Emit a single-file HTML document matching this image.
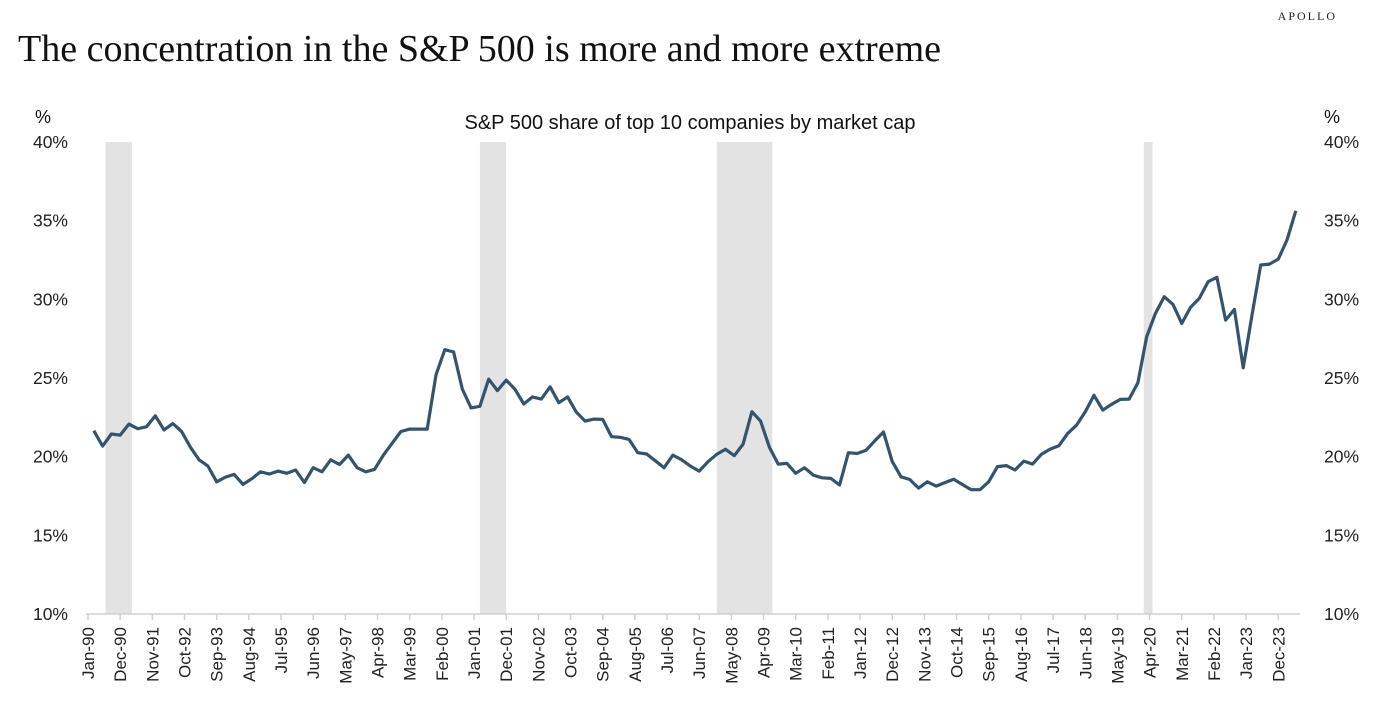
<!DOCTYPE html>
<html><head><meta charset="utf-8"><style>
body{margin:0;background:#fff;width:1384px;height:718px;overflow:hidden}
svg text{font-family:"Liberation Sans",sans-serif}
</style></head><body>
<svg id="c" width="1384" height="718">
<text x="1337" y="20" font-size="12" letter-spacing="2" text-anchor="end" fill="#222" style="font-family:'Liberation Serif',serif">APOLLO</text>
<text x="18" y="61" font-size="38" fill="#111" style="font-family:'Liberation Serif',serif">The concentration in the S&amp;P 500 is more and more extreme</text>
<text x="690" y="129" font-size="20" text-anchor="middle" fill="#111">S&amp;P 500 share of top 10 companies by market cap</text>
<text x="35" y="123" font-size="18" fill="#111">%</text>
<text x="1324" y="123" font-size="18" fill="#111">%</text>
<g id="rec"></g><g id="axes"></g><g id="line"></g>
</svg>
<script>
const values=[21.65,20.67,21.44,21.37,22.07,21.78,21.9,22.6,21.7,22.1,21.6,20.6,19.8,19.4,18.4,18.7,18.87,18.24,18.6,19.04,18.9,19.08,18.94,19.15,18.36,19.3,19.04,19.8,19.5,20.1,19.3,19.04,19.2,20.1,20.85,21.6,21.75,21.75,21.75,25.2,26.8,26.65,24.3,23.1,23.2,24.93,24.2,
24.87,24.28,23.35,23.8,23.66,24.44,23.43,23.8,22.82,22.26,22.39,22.37,21.27,21.23,21.1,20.25,20.17,19.74,19.3,20.1,19.8,19.4,19.08,19.68,20.15,20.47,20.06,20.8,22.86,22.26,20.6,19.53,19.57,18.94,19.3,18.83,18.66,18.62,18.2,20.25,20.2,20.4,21.0,21.57,19.7,
18.72,18.55,18.0,18.4,18.13,18.35,18.57,18.23,17.9,17.9,18.4,19.37,19.43,19.15,19.72,19.53,20.15,20.48,20.7,21.48,22.0,22.85,23.9,22.96,23.33,23.64,23.66,24.7,27.63,29.1,30.17,29.68,28.47,29.49,30.06,31.12,31.4,28.68,29.36,25.65,29.0,32.18,32.24,32.56,33.77,35.63];
const recessionStarts=[6,134,215,361];
const recessionEnds=[15,143,234,364];
const yTicks=[10,15,20,25,30,35,40];
const monthNames=["Jan","Feb","Mar","Apr","May","Jun","Jul","Aug","Sep","Oct","Nov","Dec"];
const NS="http://www.w3.org/2000/svg";
function xM(m){return 88+m*2.9245;}
function yV(v){return 614-(v-10)*15.733;}
function mk(t,a,p){const e=document.createElementNS(NS,t);for(const k in a)e.setAttribute(k,a[k]);p.appendChild(e);return e;}
const rec=document.getElementById('rec'),ax=document.getElementById('axes'),ln=document.getElementById('line');
recessionStarts.forEach((s,i)=>{
 const r=mk('rect',{x:xM(s),y:142,width:xM(recessionEnds[i])-xM(s),height:472,fill:'#e3e3e3'},rec);
 
 
});
yTicks.forEach(v=>{
 const l=mk('text',{x:68,y:yV(v)+6,'font-size':17.5,'text-anchor':'end',fill:'#222'},ax);l.textContent=v+'%';
 
 
 const r=mk('text',{x:1324,y:yV(v)+6,'font-size':17.5,fill:'#222'},ax);r.textContent=v+'%';
 
 
});
const axl=mk('line',{x1:86,x2:1300,y1:614,y2:614,stroke:'#d0d0d0','stroke-width':1.5},ax);


for(let m=0;m<=407;m+=11){
 const x=xM(m);
 mk('line',{x1:x,x2:x,y1:614,y2:620,stroke:'#d0d0d0','stroke-width':1.5},ax);
 const yr=(90+Math.floor(m/12))%100;
 const t=mk('text',{transform:`translate(${x+6},${627}) rotate(-90)`,'font-size':17,'text-anchor':'end',fill:'#222'},ax);
 t.textContent=monthNames[m%12]+'-'+String(yr).padStart(2,'0');
 
 
}
const pts=values.map((v,i)=>xM(3*i+2).toFixed(1)+','+yV(v).toFixed(1)).join(' ');
const pl=mk('polyline',{points:pts,fill:'none',stroke:'#34546e','stroke-width':3.2,'stroke-linejoin':'round'},ln);


</script>
</body></html>
